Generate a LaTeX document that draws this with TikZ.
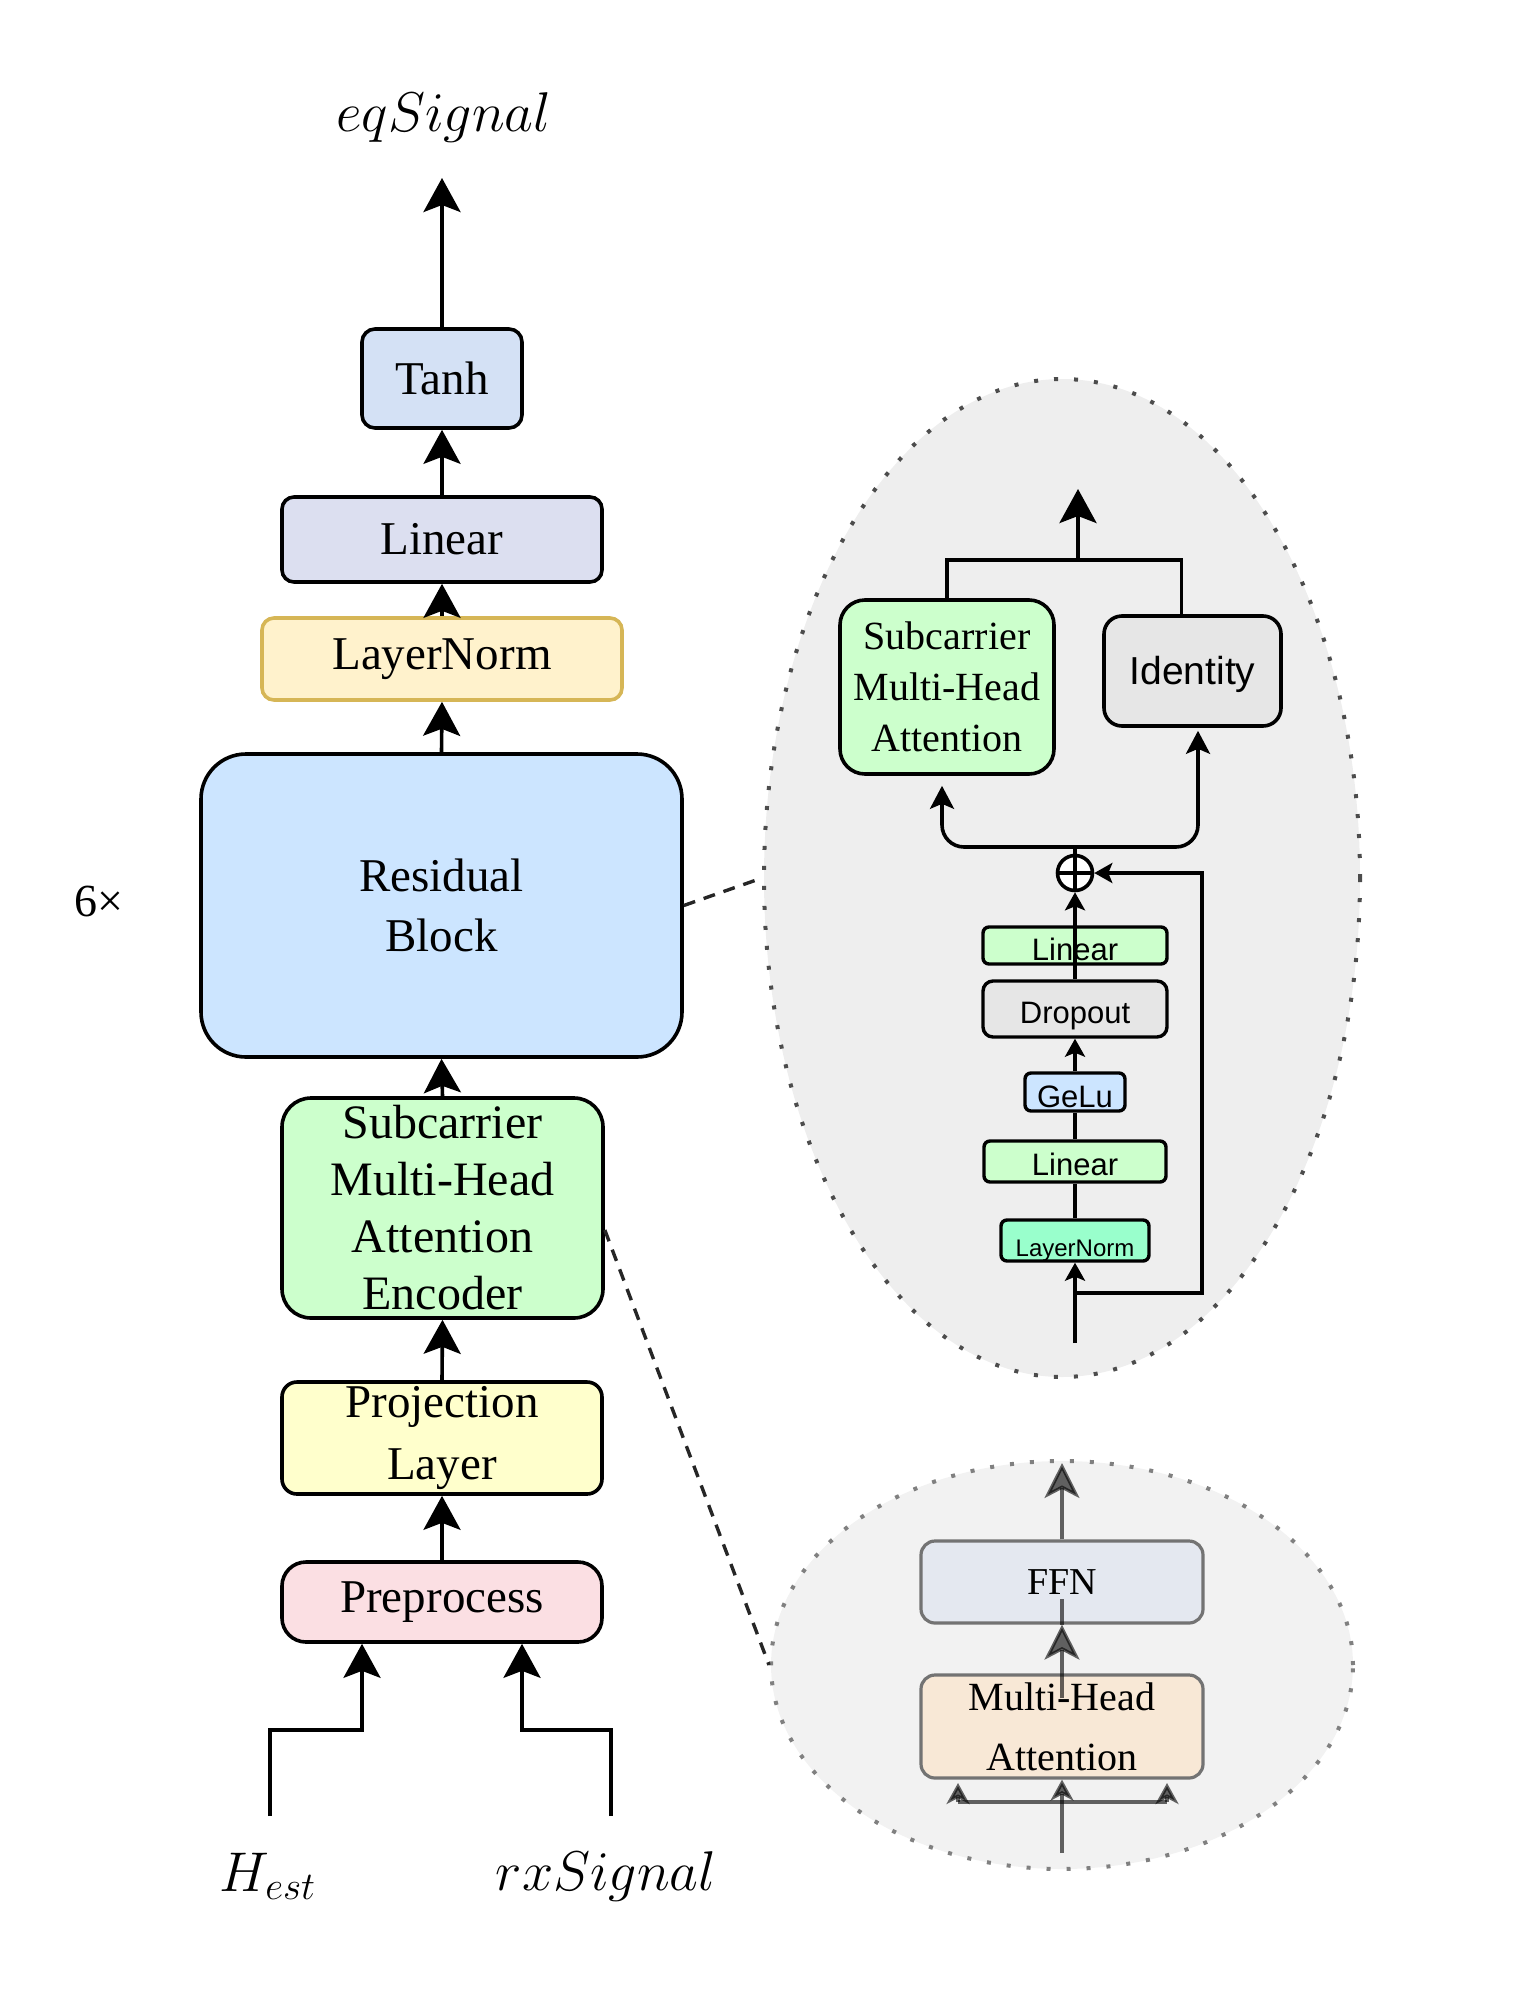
\documentclass[tikz,border=0pt]{standalone}
\usepackage{fix-cm}
\usepackage{fontspec}
\setmainfont{Liberation Serif}
\setsansfont{Liberation Sans}
\usetikzlibrary{arrows.meta,shapes.geometric,calc}
\definecolor{tanhc}{HTML}{D4E1F5}
\definecolor{linc}{HTML}{DCDFF0}
\definecolor{lnc}{HTML}{FFF2CC}
\definecolor{lnd}{HTML}{D6B656}
\definecolor{resc}{HTML}{CCE5FF}
\definecolor{encc}{HTML}{CCFFCC}
\definecolor{projc}{HTML}{FFFFCC}
\definecolor{prec}{HTML}{FBDFE3}
\definecolor{upc}{HTML}{EEEEEE}
\definecolor{loc}{HTML}{F2F2F2}
\definecolor{idc}{HTML}{E6E6E6}
\definecolor{gelc}{HTML}{CCE5FF}
\definecolor{lnsc}{HTML}{99FFCC}
\definecolor{ffnc}{HTML}{E4E8F0}
\definecolor{mhac}{HTML}{F8E8D6}
\begin{document}
\begin{tikzpicture}[x=0.5pt,y=-0.5pt,
  box/.style={draw=black, line width=1.8pt, inner sep=0pt, align=center, font=\fontsize{23.5pt}{30pt}\selectfont},
  sbox/.style={draw=black, line width=1.7pt, inner sep=0pt, rounded corners=3pt, align=center, font=\sffamily\fontsize{15.5pt}{18pt}\selectfont},
  gbox/.style={draw=black!55, line width=1.6pt, inner sep=0pt, rounded corners=7pt, align=center},
  conn/.style={line width=1.8pt},
  arr/.style={conn, -{Stealth[length=17pt,width=18.5pt,inset=3.5pt]}},
  marr/.style={conn, -{Stealth[length=11.5pt,width=12pt,inset=2.5pt]}},
  sarr/.style={conn, -{Stealth[length=9pt,width=10pt,inset=2pt]}},
  gline/.style={draw=black, opacity=0.6, line width=1.6pt},
  garr/.style={gline, -{Stealth[length=17.5pt,width=17.5pt,inset=4.5pt]}},
  gsarr/.style={gline, -{Stealth[length=10.5pt,width=11.5pt,inset=3pt]}},
  zoomell/.style={ellipse, inner sep=0pt, line width=2pt, dash pattern=on 2pt off 8pt},
  mlabel/.style={font=\fontsize{28pt}{34pt}\selectfont, inner sep=0pt, anchor=base},
  dashlink/.style={line width=1.7pt, draw=black!85, dash pattern=on 6pt off 4.5pt},
]
\useasboundingbox (0,0) rectangle (1528,1996);

% zoom ellipses
\node[zoomell, draw=black!70, fill=upc, minimum width=298pt, minimum height=499pt] (up) at (1062,878) {};
\node[zoomell, draw=black!50, fill=loc, minimum width=291pt, minimum height=204pt] (lo) at (1062,1665) {};

% main column
\node[box, fill=tanhc, rounded corners=6.5pt, minimum width=80pt, minimum height=49.5pt] (tanh) at (442,378.5) {Tanh};
\node[box, fill=linc, rounded corners=6pt, minimum width=160pt, minimum height=42.5pt] (lin) at (442,539.5) {Linear};
\node[box, draw=lnd, fill=lnc, rounded corners=6pt, minimum width=180pt, minimum height=41pt] (ln) at (442,659) {LayerNorm};
\node[box, fill=resc, rounded corners=22.5pt, minimum width=240.5pt, minimum height=151.5pt] (res) at (441.5,905.5) {Residual\\Block};
\node[box, fill=encc, rounded corners=14.5pt, minimum width=160.5pt, minimum height=110pt, font=\fontsize{24pt}{28.5pt}\selectfont] (enc) at (442.5,1208) {Subcarrier\\Multi-Head\\Attention\\Encoder};
\node[box, fill=projc, rounded corners=7.5pt, minimum width=160pt, minimum height=56pt, font=\fontsize{23.5pt}{31pt}\selectfont] (proj) at (442,1438) {Projection\\Layer};
\node[box, fill=prec, rounded corners=12pt, minimum width=160pt, minimum height=40pt] (pre) at (442,1602) {Preprocess};

\node[font=\fontsize{23pt}{26pt}\selectfont, anchor=base, inner sep=0pt] (six) at (99,916) {6×};

\node[mlabel] (eq) at (444,132) {$eqSignal$};
\node[mlabel] (hest) at (268,1891) {$H_{est}$};
\node[mlabel] (rx) at (606,1890) {$rxSignal$};

% upper zoom contents
\node[box, fill=encc, rounded corners=12.5pt, minimum width=107pt, minimum height=87pt, font=\fontsize{20pt}{25.5pt}\selectfont] (smha) at (947,687) {Subcarrier\\Multi-Head\\Attention};
\node[box, fill=idc, rounded corners=9pt, minimum width=88.5pt, minimum height=55pt, font=\sffamily\fontsize{19.5pt}{23pt}\selectfont, text height=13pt, text depth=0pt] (ident) at (1192.5,671) {Identity};
\node[sbox, fill=encc, minimum width=92pt, minimum height=18.5pt, text height=14.5pt, text depth=0pt] (lin2) at (1075,945.5) {Linear};
\node[sbox, fill=idc, rounded corners=5pt, minimum width=92pt, minimum height=28pt, text height=14pt, text depth=0pt] (drop) at (1075,1009) {Dropout};
\node[sbox, fill=gelc, minimum width=50pt, minimum height=19pt, text height=15pt, text depth=0pt] (gelu) at (1075,1092) {GeLu};
\node[sbox, fill=encc, minimum width=91pt, minimum height=20.5pt, text height=13.5pt, text depth=0pt] (lin3) at (1075,1161.5) {Linear};
\node[sbox, fill=lnsc, minimum width=74pt, minimum height=20.5pt, font=\sffamily\fontsize{12pt}{14pt}\selectfont, text height=15.5pt, text depth=0pt] (ln3) at (1075,1240.5) {LayerNorm};
\node[circle, draw=black, fill=white, line width=1.8pt, minimum size=17.5pt, inner sep=0pt] (plus) at (1075,873) {};
\draw[conn] (plus.north) -- (plus.south) (plus.west) -- (plus.east);

% lower zoom contents
\node[gbox, fill=ffnc, minimum width=141pt, minimum height=41pt, font=\fontsize{19pt}{23pt}\selectfont] (ffn) at (1062,1582) {FFN};
\node[gbox, fill=mhac, minimum width=141pt, minimum height=51.5pt, font=\fontsize{20pt}{30pt}\selectfont] (mha) at (1062,1726.5) {Multi-Head\\Attention};

% coordinates
\coordinate (eqtip) at (442,178);
\coordinate (hin) at (270,1816);
\coordinate (hk) at (270,1730);
\coordinate (rin) at (611,1816);
\coordinate (rk) at (611,1730);
\coordinate (j) at (1075,847);
\coordinate (jo) at (1078,560);
\coordinate (uptip) at (1078,489);
\coordinate (uin) at (1075,1343);
\coordinate (rs) at (1075,1293);
\coordinate (rc) at (1202,1293);
\coordinate (lotip) at (1062,1463);
\coordinate (lb) at (1062,1853);
\coordinate (bl) at (958,1802);
\coordinate (br) at (1167,1802);
\coordinate (blt) at (958,1783);
\coordinate (brt) at (1167,1783);

% dashed zoom links
\draw[dashlink] (res.east) -- (up.west);
\draw[dashlink] ($(enc.east)+(0,22)$) -- (lo.west);

% main connectors
\draw[arr] (tanh.north) -- (eqtip);
\draw[arr] (lin.north) -- (tanh.south);
\draw[arr] (ln.north) -- (lin.south);
\draw[arr] (res.north) -- (ln.south);
\draw[arr] (enc.north) -- (res.south);
\draw[arr] (proj.north) -- (enc.south);
\draw[arr] (pre.north) -- (proj.south);
\draw[arr] (hin) -- (hk) -| ($(pre.south)+(-80,0)$);
\draw[arr] (rin) -- (rk) -| ($(pre.south)+(80,0)$);

% upper zoom connectors
\draw[sarr] (uin) -- (ln3.south);
\draw[conn] (ln3.north) -- (lin3.south);
\draw[conn] (lin3.north) -- (gelu.south);
\draw[sarr] (gelu.north) -- (drop.south);
\draw[sarr] (drop.north) -- (plus.south);
\draw[sarr] (rs) -- (rc) |- (plus.east);
\draw[conn] (plus.north) -- (j);
\draw[marr, rounded corners=11pt] (j) -| ($(smha.south)+(-5,10)$);
\draw[marr, rounded corners=11pt] (j) -| ($(ident.south)+(5.5,3)$);
\draw[conn] (smha.north) |- (jo) -| ($(ident.north)+(-11,0)$);
\draw[arr] (jo) -- (uptip);

% lower zoom connectors
\draw[garr] (ffn.north) -- (lotip);
\draw[garr] ($(mha.north)+(0,25)$) -- (ffn.south);
\draw[gline] (ffn.south) -- ($(ffn.south)+(0,-26)$);
\draw[gsarr] (lb) -- (mha.south);
\draw[gline] (bl) -- (br);
\draw[gsarr] (bl) -- (blt);
\draw[gsarr] (br) -- (brt);
\end{tikzpicture}
\end{document}
